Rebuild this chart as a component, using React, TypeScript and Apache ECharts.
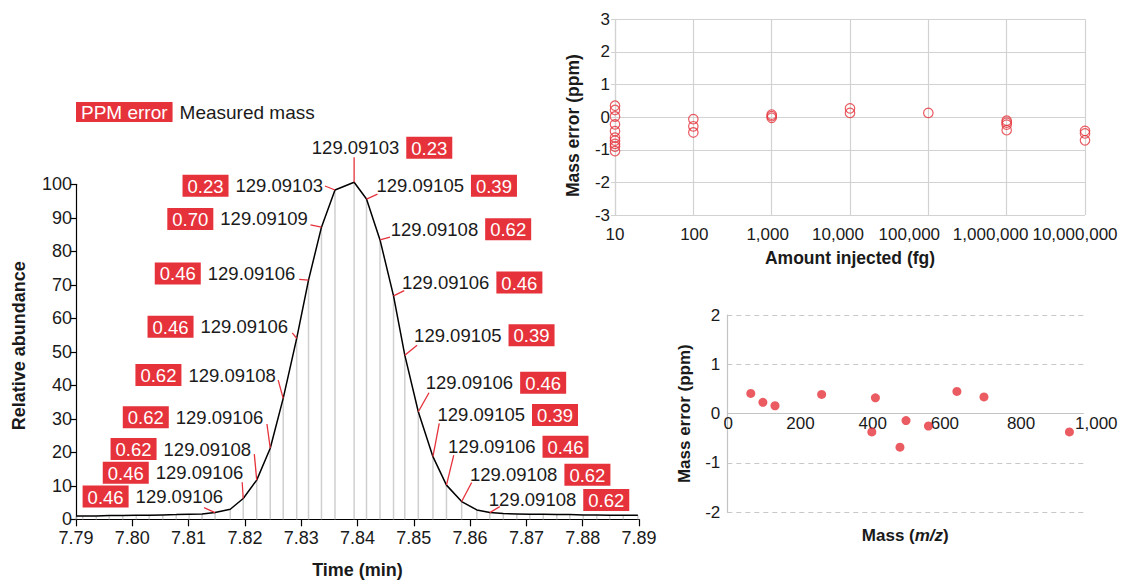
import React, { useEffect, useRef } from "react";
import * as echarts from "echarts";

const RED = "#e5323b";
const INK = "#1a1a1a";
const GRID_GRAY = "#d2d2d2";
const FONT = "'Liberation Sans', Arial, Helvetica, sans-serif";

// ---- Chromatogram (left panel) ----
const times = [
  7.79, 7.7912, 7.7936, 7.7959, 7.7983, 7.8007, 7.803, 7.8054, 7.8078, 7.8101, 7.8124,
  7.8147, 7.8174, 7.8197, 7.8221, 7.8245, 7.8268, 7.8292, 7.8313, 7.8336, 7.836,
  7.8394, 7.8416, 7.844, 7.8464, 7.8484, 7.8508, 7.8534, 7.8558, 7.8585, 7.8612,
  7.8635, 7.8659, 7.8683, 7.8706, 7.873, 7.8754, 7.8777, 7.8801, 7.8825, 7.8848,
  7.8872, 7.8898,
];
const abundance = [
  1.0, 1.0, 1.0, 1.1, 1.1, 1.2, 1.2, 1.3, 1.4, 1.5, 1.6,
  2.0, 3.0, 6.2, 11.7, 21.2, 36.1, 54.0, 71.4, 87.2, 98.3,
  100.6, 95.6, 83.4, 66.7, 49.0, 32.1, 18.7, 10.2, 5.3, 2.8,
  2.0, 1.7, 1.6, 1.5, 1.5, 1.4, 1.4, 1.3, 1.3, 1.2,
  1.2, 1.2,
];

// labelled scans (index into times), measured mass and ppm error
const labelIndex = [11, 13, 14, 15, 16, 17, 18, 19, 20, 21, 22, 23, 24, 25, 26, 27, 28, 29, 31];
const labelMass = [
  "129.09106", "129.09106", "129.09108", "129.09106", "129.09108", "129.09106", "129.09106",
  "129.09109", "129.09103", "129.09103", "129.09105", "129.09108", "129.09106", "129.09105",
  "129.09106", "129.09105", "129.09106", "129.09108", "129.09108",
];
const labelPpm = [
  "0.46", "0.46", "0.62", "0.62", "0.62", "0.46", "0.46", "0.70", "0.23", "0.23",
  "0.39", "0.62", "0.46", "0.39", "0.46", "0.39", "0.46", "0.62", "0.62",
];
// label layout (pixels, relative to the scan point)
const labelSide = [
  "L", "L", "L", "L", "L", "L", "L", "L", "L", "T",
  "R", "R", "R", "R", "R", "R", "R", "R", "R",
];
const textOffset = [
  [8, -16], [0, -25.7], [-5.7, -31], [-7, -31], [-7.3, -23.3], [-8.7, -11.6], [-13.3, -6.7],
  [-13.7, -8.3], [-12, -4.3], [-42.3, -34.6],
  [10, -13.3], [10.7, -10.7], [8.4, -13.3], [9.3, -20], [7.4, -29], [4.6, -41.7], [1.6, -38.3],
  [8.3, -26.7], [-1, -12.7],
];
const leaderOffset = [
  [-11, -5], [-1, -16.3], [-2.4, -26], [-3.3, -24.3], [-5, -18.3], [-4.4, -5.6], [-9.3, -0.7],
  [-11, -2.3], [-10, -4], [0, -25],
  [11, -5], [10, -2.7], [10.7, -5.3], [12.3, -10], [10.7, -19], [6.3, -33.4], [7.3, -30],
  [10, -19], [10, -6],
];

// ---- Mass error vs amount injected (top right) ----
const amounts = [10, 100, 1000, 10000, 100000, 1000000, 10000000];
const amountErrors = [
  [0.35, 0.22, 0.02, -0.22, -0.43, -0.63, -0.72, -0.82, -0.9, -1.04],
  [-0.06, -0.28, -0.47],
  [0.08, 0.03, -0.02],
  [0.27, 0.13],
  [0.13],
  [-0.11, -0.17, -0.23, -0.4],
  [-0.42, -0.5, -0.71],
];
// horizontal nudge of each amount tick label (layout, px)
const amountLabelShift = [0, 1, -4, -12, -19, -16, -10];

// ---- Mass error vs mass (bottom right) ----
const masses = [66, 100, 134, 265, 406, 416, 485, 502, 565, 645, 721, 961];
const massErrors = [0.41, 0.23, 0.16, 0.39, -0.37, 0.32, -0.68, -0.14, -0.25, 0.45, 0.34, -0.37];
const massTicks = [0, 200, 400, 600, 800, 1000];
const massLabelShift = [1, 2, 3, 4, 9, 13];

const commas = (v: number) => Math.round(v).toLocaleString("en-US");

const LABEL_FS = 18.5;
const richBase = {
  box: {
    backgroundColor: RED,
    fill: "#ffffff",
    color: "#ffffff",
    fontSize: LABEL_FS,
    fontFamily: FONT,
    padding: [2, 5, 1, 5],
    lineHeight: 20,
  },
  massL: { fill: INK, color: INK, fontSize: LABEL_FS, fontFamily: FONT, padding: [0, 0, 0, 7] },
  massR: { fill: INK, color: INK, fontSize: LABEL_FS, fontFamily: FONT, padding: [0, 7, 0, 0] },
};
const richLegend = {
  box: { ...richBase.box, fontSize: 19, padding: [1, 5, 0, 5] },
  massL: { ...richBase.massL, fontSize: 19 },
};

const GRID_H2 = 197.3;

export default function App() {
  const ref = useRef<HTMLDivElement>(null);

  useEffect(() => {
    if (!ref.current) return;
    const chart = echarts.init(ref.current, undefined, { renderer: "svg" });

    const chromData = times.map((t, i) => [t, abundance[i]]);
    const labelData = labelIndex.map((idx, i) => [times[idx], abundance[idx], i]);
    const amountData: number[][] = [];
    amounts.forEach((a, i) => amountErrors[i].forEach((e) => amountData.push([a, e])));
    const massData = masses.map((m, i) => [m, massErrors[i]]);

    const axisLabelStyle = { color: INK, fontFamily: FONT };

    const tickLabelSeries = (
      xi: number,
      values: number[],
      shifts: number[],
      yAt: number,
      dy: number
    ) => ({
      type: "custom",
      xAxisIndex: xi,
      yAxisIndex: xi,
      clip: false,
      silent: true,
      data: values.map((v, i) => [v, yAt, i]),
      renderItem: (params: any, api: any) => {
        const i = api.value(2);
        const p = api.coord([api.value(0), api.value(1)]);
        return {
          type: "text",
          x: p[0] + shifts[i],
          y: p[1] + dy,
          style: {
            text: commas(values[i]),
            fill: INK,
            fontSize: 17,
            fontFamily: FONT,
            align: "center",
            verticalAlign: "middle",
          },
        };
      },
    });

    const option: any = {
      animation: false,
      textStyle: { fontFamily: FONT },
      grid: [
        { left: 76, top: 184.3, width: 563, height: 335, outerBoundsMode: "none", containLabel: false },
        { left: 615, top: 19.3, width: 470, height: 195.7, outerBoundsMode: "none", containLabel: false },
        { left: 727.3, top: 315, width: 356, height: GRID_H2, outerBoundsMode: "none", containLabel: false },
      ],
      xAxis: [
        {
          type: "value",
          gridIndex: 0,
          min: 7.79,
          max: 7.89,
          interval: 0.01,
          axisLine: { lineStyle: { color: "#000", width: 1.2 } },
          axisTick: { show: true, length: 7, lineStyle: { color: "#000", width: 1.2 } },
          axisLabel: {
            ...axisLabelStyle,
            fontSize: 18,
            margin: 10,
            showMaxLabel: true,
            showMinLabel: true,
            formatter: (v: number) => v.toFixed(2),
          },
          splitLine: { show: false },
          name: "Time (min)",
          nameLocation: "middle",
          nameGap: 42,
          nameTextStyle: { color: INK, fontSize: 18, fontWeight: "bold", fontFamily: FONT },
        },
        {
          type: "log",
          logBase: 10,
          gridIndex: 1,
          min: 10,
          max: 10000000,
          axisLine: { lineStyle: { color: GRID_GRAY, width: 1.2 } },
          axisTick: { show: true, length: 4, lineStyle: { color: GRID_GRAY } },
          axisLabel: { show: false },
          splitLine: { show: true, lineStyle: { color: GRID_GRAY, width: 1.2 } },
          name: "Amount injected (fg)",
          nameLocation: "middle",
          nameGap: 34,
          nameTextStyle: { color: INK, fontSize: 17.5, fontWeight: "bold", fontFamily: FONT },
        },
        {
          type: "value",
          gridIndex: 2,
          min: 0,
          max: 1000,
          interval: 200,
          position: "bottom",
          offset: -GRID_H2 / 2,
          axisLine: { onZero: false, lineStyle: { color: "#c4c4c4", width: 1.2 } },
          axisTick: { show: false },
          axisLabel: { show: false },
          splitLine: { show: false },
          name: "Mass ({i|m/z})",
          nameLocation: "middle",
          nameGap: 113,
          nameTextStyle: {
            color: INK,
            fontSize: 17,
            fontWeight: "bold",
            fontFamily: FONT,
            rich: { i: { fontStyle: "italic", fontWeight: "bold", fontSize: 17, color: INK, fontFamily: FONT } },
          },
        },
      ],
      yAxis: [
        {
          type: "value",
          gridIndex: 0,
          min: 0,
          max: 100,
          interval: 10,
          axisLine: { show: true, lineStyle: { color: "#000", width: 1.2 } },
          axisTick: { show: true, length: 6, lineStyle: { color: "#000", width: 1.2 } },
          axisLabel: { ...axisLabelStyle, fontSize: 18, margin: 4 },
          splitLine: { show: false },
          name: "Relative abundance",
          nameLocation: "middle",
          nameGap: 48,
          nameTextStyle: { color: INK, fontSize: 18, fontWeight: "bold", fontFamily: FONT, padding: [0, 0, 0, 12] },
        },
        {
          type: "value",
          gridIndex: 1,
          min: -3,
          max: 3,
          interval: 1,
          axisLine: { show: true, lineStyle: { color: GRID_GRAY, width: 1.2 } },
          axisTick: { show: true, length: 4, lineStyle: { color: GRID_GRAY } },
          axisLabel: { ...axisLabelStyle, fontSize: 17, margin: 5 },
          splitLine: { show: true, lineStyle: { color: GRID_GRAY, width: 1.2 } },
          name: "Mass error (ppm)",
          nameLocation: "middle",
          nameGap: 33,
          nameTextStyle: { color: INK, fontSize: 17.5, fontWeight: "bold", fontFamily: FONT, padding: [0, 17, 0, 0] },
        },
        {
          type: "value",
          gridIndex: 2,
          min: -2,
          max: 2,
          interval: 1,
          axisLine: { show: true, onZero: false, lineStyle: { color: "#c4c4c4", width: 1.2 } },
          axisTick: { show: false },
          axisLabel: { ...axisLabelStyle, fontSize: 17, margin: 7 },
          splitLine: { show: true, lineStyle: { color: "#c8c8c8", type: [5, 4], width: 1.2 } },
          name: "Mass error (ppm)",
          nameLocation: "middle",
          nameGap: 34,
          nameTextStyle: { color: INK, fontSize: 17, fontWeight: "bold", fontFamily: FONT },
        },
      ],
      graphic: [
        {
          type: "text",
          left: 76,
          top: 102,
          style: {
            text: "{box|PPM error}{massL|Measured mass}",
            rich: richLegend,
          },
        },
      ],
      series: [
        {
          type: "custom",
          xAxisIndex: 0,
          yAxisIndex: 0,
          clip: false,
          data: chromData,
          z: 1,
          renderItem: (params: any, api: any) => {
            const top = api.coord([api.value(0), api.value(1)]);
            const bottom = api.coord([api.value(0), 0]);
            return {
              type: "line",
              shape: { x1: top[0], y1: top[1], x2: bottom[0], y2: bottom[1] },
              style: { stroke: "#cfcfcf", lineWidth: 1.5 },
            };
          },
        },
        {
          type: "line",
          xAxisIndex: 0,
          yAxisIndex: 0,
          data: chromData,
          showSymbol: false,
          symbol: "none",
          clip: false,
          z: 3,
          lineStyle: { color: "#000", width: 1.5 },
        },
        {
          type: "custom",
          xAxisIndex: 0,
          yAxisIndex: 0,
          clip: false,
          data: labelData,
          z: 4,
          renderItem: (params: any, api: any) => {
            const i = api.value(2);
            const p = api.coord([api.value(0), api.value(1)]);
            const [tx, ty] = textOffset[i];
            const [lx, ly] = leaderOffset[i];
            const side = labelSide[i];
            const text =
              side === "L"
                ? `{box|${labelPpm[i]}}{massL|${labelMass[i]}}`
                : `{massR|${labelMass[i]}}{box|${labelPpm[i]}}`;
            return {
              type: "group",
              children: [
                {
                  type: "line",
                  shape: { x1: p[0], y1: p[1], x2: p[0] + lx, y2: p[1] + ly },
                  style: { stroke: RED, lineWidth: 1.3 },
                },
                {
                  type: "text",
                  x: p[0] + tx,
                  y: p[1] + ty,
                  style: {
                    text,
                    align: side === "L" ? "right" : "left",
                    verticalAlign: "middle",
                    rich: richBase,
                  },
                },
              ],
            };
          },
        },
        {
          type: "scatter",
          xAxisIndex: 1,
          yAxisIndex: 1,
          data: amountData,
          symbol: "circle",
          symbolSize: 9.5,
          itemStyle: { color: "rgba(0,0,0,0)", borderColor: RED, borderWidth: 1.2 },
        },
        {
          type: "scatter",
          xAxisIndex: 2,
          yAxisIndex: 2,
          data: massData,
          symbol: "circle",
          symbolSize: 9,
          itemStyle: { color: RED },
        },
        tickLabelSeries(1, amounts, amountLabelShift, -3, 19),
        tickLabelSeries(2, massTicks, massLabelShift, 0, 10),
      ],
    };

    chart.setOption(option);
    return () => chart.dispose();
  }, []);

  return (
    <div
      ref={ref}
      style={{ position: "absolute", left: 0, top: 0, width: 1132, height: 580, background: "#fff" }}
    />
  );
}
